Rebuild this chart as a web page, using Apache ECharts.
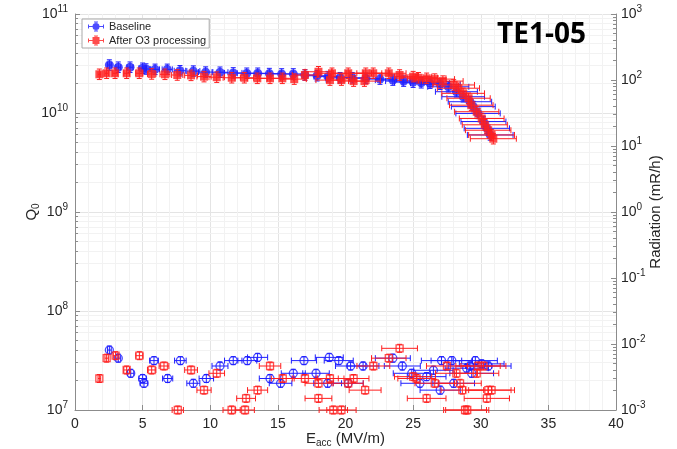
<!DOCTYPE html>
<html>
<head>
<meta charset="utf-8">
<script src="https://cdn.jsdelivr.net/npm/echarts@6/dist/echarts.min.js"></script>
<style>
  html, body { margin: 0; padding: 0; background: #fff; }
  #chart { width: 677px; height: 449px; }
</style>
</head>
<body>
<div id="chart"></div>
<script>
// Q0 vs accelerating gradient, [Eacc (MV/m), Q0]
const baselineQ0 = [
  [2.54, 3.05e10], [3.20, 2.90e10], [4.07, 2.90e10], [5.0, 2.83e10], [5.25, 2.78e10],
  [5.92, 2.76e10], [6.82, 2.76e10], [7.76, 2.67e10], [8.75, 2.65e10], [9.66, 2.59e10],
  [10.72, 2.58e10], [11.70, 2.54e10], [12.70, 2.52e10], [13.51, 2.52e10], [14.37, 2.50e10],
  [15.28, 2.48e10], [16.14, 2.48e10], [17.0, 2.42e10], [17.9, 2.38e10], [18.7, 2.33e10],
  [19.6, 2.27e10], [20.5, 2.27e10], [21.5, 2.24e10], [22.55, 2.20e10], [23.5, 2.15e10],
  [24.3, 2.10e10], [25.0, 2.05e10], [25.6, 2.02e10], [26.25, 2.0e10], [27.0, 1.95e10],
  [27.6, 1.84e10], [28.2, 1.64e10], [28.7, 1.46e10], [29.2, 1.30e10], [29.45, 1.16e10],
  [29.8, 9.9e9], [30.2, 8.2e9], [30.45, 7.0e9], [30.7, 6.0e9]
];
const afterQ0 = [
  [1.8, 2.46e10], [2.34, 2.52e10], [2.96, 2.52e10], [3.82, 2.52e10], [4.75, 2.52e10],
  [5.67, 2.48e10], [6.65, 2.46e10], [7.56, 2.42e10], [8.58, 2.40e10], [9.54, 2.33e10],
  [10.48, 2.30e10], [11.59, 2.27e10], [12.52, 2.27e10], [13.48, 2.24e10], [14.42, 2.24e10],
  [15.33, 2.24e10], [16.21, 2.20e10], [17.0, 2.42e10], [18.0, 2.61e10], [18.85, 2.15e10],
  [19.0, 2.52e10], [19.7, 2.15e10], [20.2, 2.52e10], [20.6, 2.10e10], [21.4, 2.10e10],
  [21.5, 2.52e10], [22.05, 2.52e10], [23.2, 2.52e10], [24.0, 2.42e10], [25.0, 2.33e10],
  [25.4, 2.27e10], [26.0, 2.24e10], [26.6, 2.20e10], [27.2, 2.10e10], [28.0, 1.92e10],
  [28.35, 1.78e10], [28.7, 1.58e10], [29.1, 1.41e10], [29.3, 1.20e10], [29.7, 1.03e10],
  [30.07, 8.8e9], [30.3, 7.6e9], [30.55, 6.7e9], [30.8, 6.0e9], [30.93, 5.5e9]
];

// Field-emission radiation, [Eacc (MV/m), mR/h]
const baselineRad = [
  [2.54, 8.1e-3], [3.2, 6.1e-3], [4.12, 3.6e-3], [5.0, 3.0e-3], [5.1, 2.54e-3],
  [5.84, 5.6e-3], [6.85, 3.0e-3], [7.79, 5.6e-3], [8.75, 2.54e-3], [9.71, 3.0e-3],
  [10.72, 4.64e-3], [11.7, 5.6e-3], [12.74, 5.6e-3], [13.5, 6.27e-3], [14.42, 3.0e-3],
  [15.2, 2.54e-3], [16.14, 3.6e-3], [16.93, 5.6e-3], [17.82, 3.6e-3], [18.68, 2.54e-3],
  [18.8, 6.27e-3], [19.5, 5.6e-3], [20.2, 2.54e-3], [20.38, 4.64e-3], [21.3, 4.64e-3],
  [23.5, 6.1e-3], [24.2, 4.64e-3], [24.9, 3.6e-3], [25.5, 2.54e-3], [26.0, 3.2e-3],
  [26.5, 4.0e-3], [27.0, 2.0e-3], [27.1, 5.6e-3], [27.86, 5.6e-3], [28.0, 2.54e-3],
  [28.96, 4.3e-3], [29.2, 4.64e-3], [29.33, 3.6e-3], [29.6, 5.6e-3], [30.07, 5.0e-3],
  [30.56, 4.64e-3]
];
const afterRad = [
  [1.8, 3.0e-3], [2.34, 6.1e-3], [3.0, 6.65e-3], [3.82, 4.04e-3], [4.76, 6.65e-3],
  [5.67, 4.04e-3], [6.58, 4.64e-3], [7.6, 1.0e-3], [8.58, 4.04e-3], [9.54, 2.0e-3],
  [10.48, 3.6e-3], [11.58, 1.0e-3], [12.57, 1.0e-3], [12.65, 1.5e-3], [13.5, 2.0e-3],
  [14.42, 4.64e-3], [15.36, 3.0e-3], [17.0, 3.0e-3], [18.0, 2.54e-3], [18.0, 1.5e-3],
  [18.85, 3.0e-3], [19.1, 1.0e-3], [19.7, 1.0e-3], [20.2, 2.54e-3], [20.6, 3.0e-3],
  [21.45, 2.0e-3], [22.06, 4.64e-3], [23.2, 6.1e-3], [24.0, 8.6e-3], [25.0, 3.2e-3],
  [25.26, 3.0e-3], [26.0, 1.5e-3], [26.6, 2.54e-3], [27.5, 4.64e-3], [28.2, 3.6e-3],
  [28.47, 2.54e-3], [28.64, 2.0e-3], [28.84, 1.0e-3], [29.0, 1.0e-3], [29.7, 3.6e-3],
  [29.8, 4.64e-3], [30.2, 4.64e-3], [30.45, 1.5e-3], [30.56, 2.0e-3], [30.8, 2.0e-3]
];

// Relative measurement uncertainties
const Q0_ERR = { x: 0.055, y: 0.13 };
const RAD_ERR = { x: 0.055, y: 0.15 };

const BLUE = '#1f1fff';
const RED = '#ff1f1f';
const AXIS = '#8c8c8c';
const TXT = '#262626';
const FONT = '"Liberation Sans", Arial, sans-serif';
const GRID_MAJOR = '#e4e4e4';
const GRID_MINOR = '#f2f2f2';

const crisp = v => Math.round(v - 0.5) + 0.5;

// Horizontal + vertical error bars with end caps
function errorBars(err, color) {
  return function (params, api) {
    const x = api.value(0), y = api.value(1);
    const c = api.coord([x, y]);
    const xl = api.coord([x * (1 - err.x), y])[0];
    const xr = api.coord([x * (1 + err.x), y])[0];
    const yt = api.coord([x, y * (1 + err.y)])[1];
    const yb = api.coord([x, y / (1 + err.y)])[1];
    const st = { stroke: color, lineWidth: 1, fill: null };
    const seg = (x1, y1, x2, y2) => ({ type: 'line', shape: { x1, y1, x2, y2 }, style: st });
    return {
      type: 'group',
      children: [
        seg(xl, c[1], xr, c[1]),
        seg(xl, c[1] - 3, xl, c[1] + 3),
        seg(xr, c[1] - 3, xr, c[1] + 3),
        seg(c[0], yt, c[0], yb),
        seg(c[0] - 2.5, yt, c[0] + 2.5, yt),
        seg(c[0] - 2.5, yb, c[0] + 2.5, yb)
      ]
    };
  };
}

// 2..9 sub-decade positions of a log axis
function decadeMinors(lo, hi) {
  const out = [];
  for (let e = lo; e < hi; e++) {
    for (let m = 2; m <= 9; m++) out.push([0, m * Math.pow(10, e)]);
  }
  return out;
}

function logLabel(v) {
  const e = Math.round(Math.log10(v));
  return '{b|10}{e|' + e + '}';
}
const logRich = {
  b: { fontSize: 14, color: TXT, fontFamily: FONT, lineHeight: 20 },
  e: { fontSize: 10, color: TXT, fontFamily: FONT, lineHeight: 10, verticalAlign: 'top' }
};

const legendCircle = 'path://M0,4.5H16V5.5H0Z M0,3H1V7H0Z M15,3H16V7H15Z M7.5,0H8.5V10H7.5Z M6,0H10V1H6Z M6,9H10V10H6Z M4.5,5A3.5,3.5,0,1,1,11.5,5A3.5,3.5,0,1,1,4.5,5Z';
const legendSquare = 'path://M0,4.5H16V5.5H0Z M0,3H1V7H0Z M15,3H16V7H15Z M7.5,0H8.5V10H7.5Z M6,0H10V1H6Z M6,9H10V10H6Z M4.5,1.5H11.5V8.5H4.5Z';

const subRich = {
  m: { fontSize: 15, color: TXT, fontFamily: FONT, lineHeight: 18 },
  s: { fontSize: 10, color: TXT, fontFamily: FONT, lineHeight: 10, verticalAlign: 'bottom' }
};

const chart = echarts.init(document.getElementById('chart'), null, { renderer: 'canvas' });

chart.setOption({
  animation: false,
  backgroundColor: '#fff',
  title: {
    text: 'TE1-05',
    left: 497, top: 21, padding: 0,
    textStyle: { fontFamily: '"Open Sans", sans-serif', fontWeight: 'bold', fontSize: 28, color: '#000' }
  },
  legend: {
    left: 82, top: 19,
    orient: 'vertical',
    padding: [2, 3, 2, 6],
    itemGap: 3,
    itemWidth: 16, itemHeight: 10,
    backgroundColor: '#fff',
    borderColor: '#a8a8a8', borderWidth: 1, borderRadius: 0,
    selectedMode: false,
    textStyle: { fontSize: 11, color: TXT, fontFamily: FONT },
    data: [
      { name: 'Baseline', icon: legendCircle, itemStyle: { color: BLUE } },
      { name: 'After O3 processing', icon: legendSquare, itemStyle: { color: RED } }
    ]
  },
  grid: { left: 75, right: 61, top: 14, bottom: 39, containLabel: false, outerBoundsMode: 'none' },
  xAxis: {
    type: 'value', min: 0, max: 40, interval: 5,
    axisLine: { show: true, lineStyle: { color: AXIS, width: 1 } },
    axisTick: { show: true, inside: true, length: 5, lineStyle: { color: AXIS } },
    axisLabel: { fontSize: 14, color: TXT, fontFamily: FONT, margin: 7 },
    splitLine: { show: true, lineStyle: { color: GRID_MAJOR, width: 1 } },
    minorTick: { show: false, splitNumber: 5 },
    minorSplitLine: { show: true, lineStyle: { color: GRID_MINOR, width: 1 } },
    name: '{m|E}{s|acc}{m| (MV/m)}',
    nameLocation: 'middle', nameGap: 20, nameMoveOverlap: false,
    nameTextStyle: { rich: subRich }
  },
  yAxis: [
    {
      type: 'log', logBase: 10, min: 1e7, max: 1e11, position: 'left',
      axisLine: { show: true, lineStyle: { color: AXIS, width: 1 } },
      axisTick: { show: true, inside: true, length: 5, lineStyle: { color: AXIS } },
      axisLabel: { formatter: logLabel, rich: logRich, margin: 7 },
      splitLine: { show: true, lineStyle: { color: GRID_MAJOR, width: 1 } },
      name: '{m|Q}{s|0}',
      nameLocation: 'middle', nameGap: 34, nameRotate: 90, nameMoveOverlap: false,
      nameTextStyle: { rich: subRich }
    },
    {
      type: 'log', logBase: 10, min: 1e-3, max: 1e3, position: 'right',
      axisLine: { show: true, lineStyle: { color: AXIS, width: 1 } },
      axisTick: { show: true, inside: true, length: 5, lineStyle: { color: AXIS } },
      axisLabel: { formatter: logLabel, rich: logRich, margin: 5 },
      splitLine: { show: false },
      name: 'Radiation (mR/h)',
      nameLocation: 'middle', nameGap: 32, nameRotate: 90, nameMoveOverlap: false,
      nameTextStyle: { fontSize: 15, color: TXT, fontFamily: FONT }
    }
  ],
  series: [
    {
      // sub-decade grid lines and ticks on the Q0 axis
      type: 'custom', silent: true, z: 1, yAxisIndex: 0,
      data: decadeMinors(7, 11),
      encode: { x: 0, y: 1 },
      renderItem: function (params, api) {
        const v = api.value(1);
        const a = api.coord([0, v]), b = api.coord([40, v]);
        const y = crisp(a[1]);
        return {
          type: 'group',
          children: [
            { type: 'line', shape: { x1: a[0], y1: y, x2: b[0], y2: y }, style: { stroke: GRID_MINOR, lineWidth: 1 } },
            { type: 'line', shape: { x1: a[0], y1: y, x2: a[0] + 3, y2: y }, style: { stroke: AXIS, lineWidth: 1 } }
          ]
        };
      }
    },
    {
      // sub-decade ticks on the radiation axis
      type: 'custom', silent: true, z: 1, yAxisIndex: 1,
      data: decadeMinors(-3, 3),
      encode: { x: 0, y: 1 },
      renderItem: function (params, api) {
        const v = api.value(1);
        const b = api.coord([40, v]);
        const y = crisp(b[1]);
        return { type: 'line', shape: { x1: b[0] - 3, y1: y, x2: b[0], y2: y }, style: { stroke: AXIS, lineWidth: 1 } };
      }
    },
    {
      name: 'Baseline', type: 'scatter', yAxisIndex: 0, z: 4, clip: false,
      data: baselineQ0, symbol: 'circle', symbolSize: 9,
      itemStyle: { color: BLUE }
    },
    {
      name: 'After O3 processing', type: 'scatter', yAxisIndex: 0, z: 6, clip: false,
      data: afterQ0, symbol: 'rect', symbolSize: 8,
      itemStyle: { color: RED }
    },
    {
      type: 'custom', yAxisIndex: 0, z: 3, silent: true,
      data: baselineQ0, encode: { x: 0, y: 1 },
      renderItem: errorBars(Q0_ERR, BLUE)
    },
    {
      type: 'custom', yAxisIndex: 0, z: 5, silent: true,
      data: afterQ0, encode: { x: 0, y: 1 },
      renderItem: errorBars(Q0_ERR, RED)
    },
    {
      type: 'custom', yAxisIndex: 1, z: 3, silent: true,
      data: baselineRad, encode: { x: 0, y: 1 },
      renderItem: errorBars(RAD_ERR, BLUE)
    },
    {
      type: 'scatter', yAxisIndex: 1, z: 4, clip: false,
      data: baselineRad, symbol: 'circle', symbolSize: 8,
      itemStyle: { color: 'rgba(0,0,0,0)', borderColor: BLUE, borderWidth: 1.3 }
    },
    {
      type: 'custom', yAxisIndex: 1, z: 5, silent: true,
      data: afterRad, encode: { x: 0, y: 1 },
      renderItem: errorBars(RAD_ERR, RED)
    },
    {
      type: 'scatter', yAxisIndex: 1, z: 6, clip: false,
      data: afterRad, symbol: 'rect', symbolSize: 7,
      itemStyle: { color: 'rgba(0,0,0,0)', borderColor: RED, borderWidth: 1.3 }
    }
  ]
});
</script>
</body>
</html>
